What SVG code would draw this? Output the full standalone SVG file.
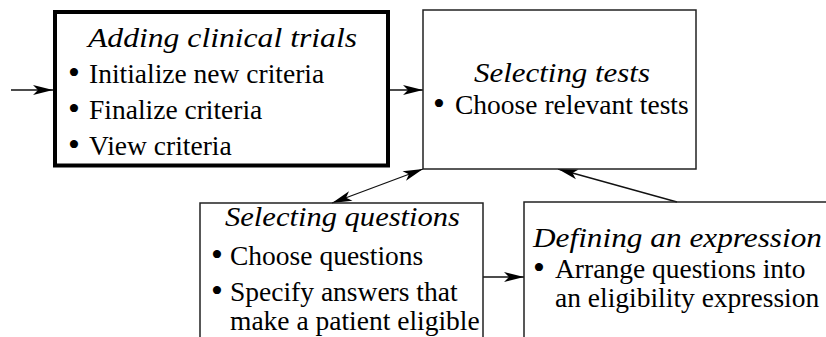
<svg xmlns="http://www.w3.org/2000/svg" width="826" height="337" viewBox="0 0 826 337">
<style>
.box{fill:#fff;stroke:#222;stroke-width:1.5}
.thick{fill:#fff;stroke:#000;stroke-width:4}
.open{fill:none;stroke:#222;stroke-width:1.5}
.title{font-family:"Liberation Serif","Times New Roman",serif;font-style:italic;font-size:28px;fill:#000}
.item{font-family:"Liberation Serif","Times New Roman",serif;font-size:27.5px;fill:#000}
.dot{font-family:"Liberation Serif","Times New Roman",serif;font-size:34px;fill:#000;text-anchor:middle}
.conn{fill:none;stroke:#111;stroke-width:1.3}
</style>
<defs>
<marker id="ah" markerUnits="userSpaceOnUse" viewBox="-22 -6 24 12" refX="0" refY="0" markerWidth="24" markerHeight="12" orient="auto-start-reverse">
<path d="M0,0 L-20,-5 L-15,0 L-20,5 Z" fill="#000"/>
</marker>
</defs>
<rect width="826" height="337" fill="#fff"/>
<g id="connectors">
<path class="conn" d="M11,90 L53,90" marker-end="url(#ah)"/>
<path class="conn" d="M390,90 L423,90" marker-end="url(#ah)"/>
<path class="conn" d="M332,203 L423,169" marker-start="url(#ah)" marker-end="url(#ah)"/>
<path class="conn" d="M677,202 L558,169" marker-end="url(#ah)"/>
<path class="conn" d="M483,277 L524,277" marker-end="url(#ah)"/>
</g>
<g id="adding-clinical-trials">
<rect class="thick" x="55" y="12" width="333" height="153.5"/>
<text class="title" x="88" y="47" textLength="269" lengthAdjust="spacingAndGlyphs">Adding clinical trials</text>
<text class="dot" x="74" y="83.5">•</text>
<text class="item" x="89" y="82.5">Initialize new criteria</text>
<text class="dot" x="74" y="119.5">•</text>
<text class="item" x="89" y="118.5">Finalize criteria</text>
<text class="dot" x="74" y="156">•</text>
<text class="item" x="89" y="155">View criteria</text>
</g>
<g id="selecting-tests">
<rect class="box" x="423" y="10" width="273" height="159"/>
<text class="title" x="474" y="81.7" textLength="176" lengthAdjust="spacingAndGlyphs">Selecting tests</text>
<text class="dot" x="439" y="115">•</text>
<text class="item" x="455" y="114">Choose relevant tests</text>
</g>
<g id="selecting-questions">
<path class="open" d="M200,340 V203 H483 V340"/>
<text class="title" x="225" y="226" textLength="235" lengthAdjust="spacingAndGlyphs">Selecting questions</text>
<text class="dot" x="217" y="266">•</text>
<text class="item" x="230" y="265">Choose questions</text>
<text class="dot" x="217" y="302">•</text>
<text class="item" x="230" y="301">Specify answers that</text>
<text class="item" x="230" y="330">make a patient eligible</text>
</g>
<g id="defining-an-expression">
<path class="open" d="M524,340 V202 H832"/>
<text class="title" x="533" y="246.5" textLength="289" lengthAdjust="spacingAndGlyphs">Defining an expression</text>
<text class="dot" x="539" y="279">•</text>
<text class="item" x="555" y="278">Arrange questions into</text>
<text class="item" x="555" y="306.5">an eligibility expression</text>
</g>
</svg>
